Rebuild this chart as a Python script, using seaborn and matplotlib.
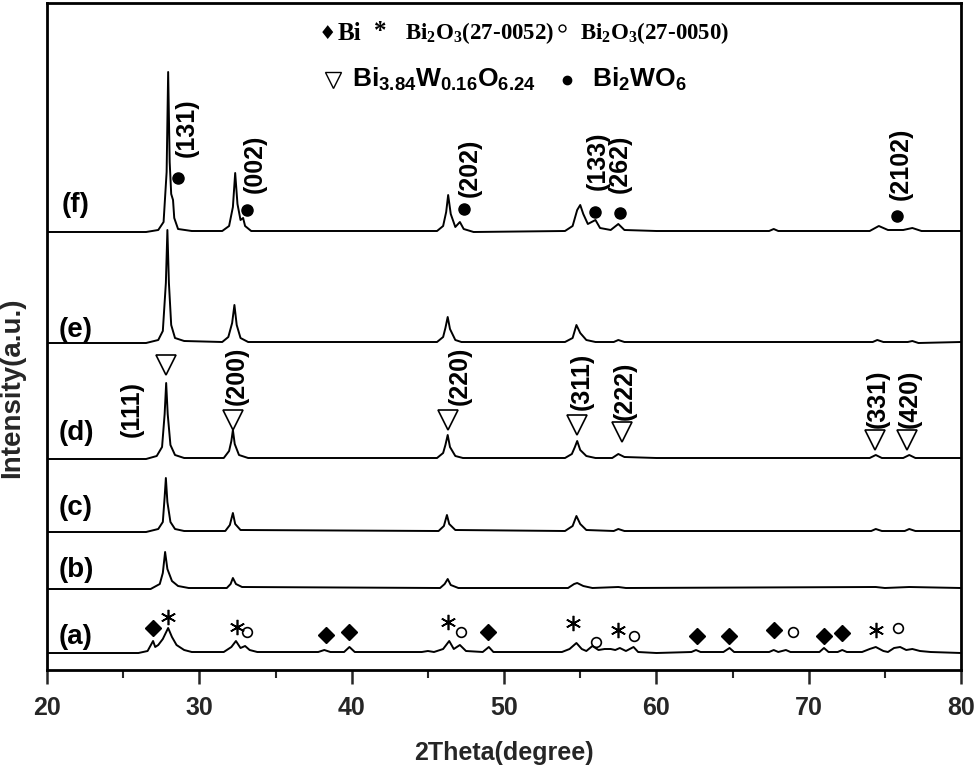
import pandas as pd
import numpy as np
import matplotlib
matplotlib.use('Agg')
import matplotlib.pyplot as plt
import seaborn as sns

# XRD traces: (2theta, intensity above own baseline)
trace_a = [(20, 0), (26.0, 0), (26.6, 2), (26.96, 12), (27.1, 6), (27.3, 8), (27.6, 14), (27.95, 25),
           (28.2, 16), (28.5, 8), (29.0, 3), (29.5, 1), (31.6, 1), (32.1, 6), (32.4, 12), (32.7, 5),
           (33.0, 7), (33.3, 3), (33.8, 1), (37.8, 1), (38.2, 3), (38.6, 1), (39.5, 1), (39.85, 6),
           (40.2, 1), (44.6, 1), (45.0, 2), (45.4, 1), (46.0, 4), (46.4, 12), (46.7, 4), (47.1, 8),
           (47.5, 2), (48.6, 1), (49.0, 6), (49.3, 1), (53.8, 1), (54.3, 4), (54.75, 10), (55.1, 4),
           (55.4, 2), (55.8, 7), (56.2, 3), (56.6, 4), (57.0, 4), (57.3, 3), (57.6, 5), (58.0, 2),
           (58.5, 6), (58.8, 1), (60.0, 0), (62.3, 1), (62.6, 3), (62.9, 1), (64.4, 1), (64.8, 5),
           (65.1, 1), (67.4, 1), (67.7, 3), (68.0, 1), (68.5, 3), (68.8, 1), (70.7, 1), (71.0, 5),
           (71.3, 1), (71.9, 1), (72.2, 3), (72.5, 1), (73.5, 1), (74.0, 4), (74.4, 6), (74.9, 2),
           (75.2, 1), (75.6, 5), (76.0, 6), (76.4, 3), (76.8, 4), (77.3, 2), (78.0, 1), (80, 0)]
trace_b = [(20, 0), (26.8, 0), (27.4, 5), (27.6, 16), (27.75, 37), (27.9, 20), (28.2, 8), (28.6, 3),
           (29.3, 1), (31.8, 1), (32.05, 5), (32.2, 11), (32.4, 5), (32.8, 2), (45.8, 1), (46.1, 5),
           (46.3, 10), (46.5, 4), (47.0, 1), (54.2, 1), (54.6, 5), (54.8, 6), (55.2, 3), (55.8, 1),
           (57.5, 2), (58.0, 1), (74.4, 2), (75.0, 1), (76.6, 2), (80, 1)]
trace_c = [(20, 0), (26.5, 0), (27.3, 3), (27.6, 10), (27.72, 35), (27.8, 54), (27.9, 30), (28.1, 10),
           (28.4, 3), (29.0, 1), (31.7, 1), (32.0, 7), (32.2, 19), (32.35, 8), (32.7, 2), (45.7, 1),
           (46.05, 6), (46.25, 17), (46.4, 8), (46.8, 2), (54.0, 1), (54.5, 6), (54.75, 16), (55.0, 8),
           (55.4, 2), (57.2, 1), (57.5, 3), (57.9, 1), (74.1, 1), (74.4, 3), (74.8, 1), (76.3, 1),
           (76.6, 3), (77.0, 1), (80, 1)]
trace_d = [(20, 0), (26.5, 0), (27.2, 3), (27.55, 12), (27.72, 45), (27.82, 76), (27.92, 45), (28.1, 14),
           (28.4, 4), (29.0, 1), (31.6, 1), (31.95, 8), (32.1, 18), (32.2, 29), (32.32, 15), (32.6, 4),
           (33.2, 1), (45.6, 1), (46.0, 6), (46.15, 14), (46.3, 24), (46.45, 12), (46.8, 3), (47.3, 1),
           (54.0, 1), (54.45, 5), (54.65, 12), (54.8, 18), (55.0, 9), (55.4, 3), (56.0, 1), (57.1, 1),
           (57.5, 5), (57.9, 2), (60.0, 1), (74.0, 1), (74.4, 4), (74.8, 1), (76.2, 1), (76.6, 4),
           (77.0, 1), (80, 1)]
trace_e = [(20, 0), (26.5, 0), (27.3, 3), (27.6, 12), (27.8, 60), (27.9, 113), (28.0, 60), (28.15, 18),
           (28.4, 5), (29.0, 2), (31.5, 1), (31.9, 6), (32.15, 20), (32.3, 38), (32.45, 18), (32.7, 5),
           (33.2, 1), (45.6, 1), (46.0, 6), (46.15, 15), (46.3, 26), (46.45, 14), (46.8, 3), (47.2, 1),
           (54.0, 1), (54.5, 5), (54.75, 18), (55.0, 10), (55.4, 3), (56.0, 1), (57.2, 1), (57.5, 3),
           (57.9, 1), (74.2, 1), (74.5, 3), (74.9, 1), (76.5, 1), (76.8, 2), (77.2, 0), (80, 1)]
trace_f = [(20, 0), (26.5, 0), (27.3, 2), (27.65, 10), (27.85, 60), (27.95, 160), (28.05, 70), (28.15, 38),
           (28.27, 32), (28.35, 14), (28.6, 3), (29.5, 1), (31.5, 1), (31.95, 6), (32.2, 25), (32.35, 59),
           (32.5, 28), (32.7, 12), (32.87, 14), (33.0, 6), (33.4, 1), (45.6, 1), (46.0, 6), (46.2, 20),
           (46.33, 37), (46.5, 18), (46.8, 5), (47.1, 10), (47.35, 3), (48.0, 0), (54.0, 1), (54.5, 6),
           (54.8, 22), (55.0, 27), (55.2, 18), (55.5, 8), (56.0, 12), (56.3, 4), (57.0, 2), (57.5, 8),
           (57.9, 2), (60.0, 1), (67.4, 1), (67.7, 3), (68.0, 1), (74.0, 1), (74.6, 6), (75.2, 2),
           (76.2, 2), (76.8, 4), (77.4, 1), (80, 1)]

sample_names = ['(a)', '(b)', '(c)', '(d)', '(e)', '(f)']
traces = [trace_a, trace_b, trace_c, trace_d, trace_e, trace_f]
offsets = [17, 81, 138, 211, 327, 438]
label_y = [33, 100, 162, 237, 340, 465]

# phase markers on pattern (a)
bi_x = [26.96, 38.32, 39.83, 48.96, 62.68, 64.78, 67.73, 71.02, 72.2]
bi_y = [42, 35, 38, 38, 34, 34, 40, 34, 37]
bi2o3_52_x = [27.95, 32.47, 46.33, 54.54, 57.49, 74.43]
bi2o3_52_y = [53, 43, 48, 47, 40, 40]
bi2o3_50_x = [33.13, 47.18, 56.05, 58.54, 68.98, 75.87]
bi2o3_50_y = [38, 38, 28, 34, 38, 42]

# Bi3.84W0.16O6.24 on pattern (d)
tri_x = [27.81, 32.2, 46.33, 54.8, 57.75, 74.36, 76.46]
tri_y = [305, 250, 250, 245, 238, 230, 230]
tri_hkl = ['(111)', '(200)', '(220)', '(311)', '(222)', '(331)', '(420)']
tri_lab_x = [25.58, 32.47, 47.12, 55.13, 57.95, 74.56, 76.66]
tri_lab_y = [233, 265, 265, 260, 250, 242, 242]

# Bi2WO6 on pattern (f)
dot_x = [28.6, 33.13, 47.38, 55.98, 57.62, 75.81]
dot_y = [492, 460, 461, 458, 457, 454]
dot_hkl = ['(131)', '(002)', '(202)', '(133)', '(262)', '(2102)']
dot_lab_x = [29.19, 33.66, 47.77, 56.18, 57.62, 76.01]
dot_lab_y = [513, 477, 473, 480, 477, 470]

rows = []
for name, tr, off in zip(sample_names, traces, offsets):
    for t, i in tr:
        rows.append({'theta': t, 'intensity': i + off, 'sample': name})
df = pd.DataFrame(rows)

sns.set_theme(style='ticks')
plt.rcParams['font.family'] = ['Liberation Sans', 'DejaVu Sans']
plt.rcParams['mathtext.default'] = 'regular'

fig = plt.figure(figsize=(9.8, 7.68), dpi=100)
ax = fig.add_axes([0.048, 0.1276, 0.9327, 0.8685])

sns.lineplot(data=df, x='theta', y='intensity', hue='sample', units='sample', estimator=None,
             palette=['black'] * 6, legend=False, linewidth=1.4, ax=ax)

bold = dict(fontweight='bold', color='black')
for name, y in zip(sample_names, label_y):
    ax.text(21.9, y, name, ha='center', va='center', fontsize=20, **bold)

ax.plot(bi_x, bi_y, 'D', color='black', markersize=8, linestyle='none')
ax.plot(bi2o3_52_x, bi2o3_52_y, marker=(6, 2, 0), color='black', markersize=11,
        markeredgewidth=1.2, linestyle='none')
ax.plot(bi2o3_50_x, bi2o3_50_y, 'o', markerfacecolor='none', markeredgecolor='black',
        markersize=7, markeredgewidth=1.2, linestyle='none')

ax.plot(tri_x, tri_y, 'v', markerfacecolor='white', markeredgecolor='black',
        markersize=14, markeredgewidth=1.2, linestyle='none')
for x, y, s in zip(tri_lab_x, tri_lab_y, tri_hkl):
    ax.text(x, y, s, rotation=90, ha='center', va='bottom', fontsize=18, **bold)

ax.plot(dot_x, dot_y, 'o', color='black', markersize=8, linestyle='none')
for x, y, s in zip(dot_lab_x, dot_lab_y, dot_hkl):
    ax.text(x, y, s, rotation=90, ha='center', va='bottom', fontsize=18, **bold)

# legend-like header
serif = ['Liberation Serif', 'DejaVu Serif']
ax.text(0.307, 0.955, '\u2666', transform=ax.transAxes, ha='center', va='center',
        fontsize=14, family=['DejaVu Sans'], color='black')
ax.text(0.318, 0.955, 'Bi', transform=ax.transAxes, ha='left', va='center',
        fontsize=18, family=serif, **bold)
ax.text(0.364, 0.958, '*', transform=ax.transAxes, ha='center', va='center',
        fontsize=18, family=serif, **bold)
ax.text(0.392, 0.955, 'Bi$_2$O$_3$(27-0052)', transform=ax.transAxes, ha='left', va='center',
        fontsize=16.5, family=serif, **bold)
ax.plot([0.563], [0.962], 'o', transform=ax.transAxes, markerfacecolor='white',
        markeredgecolor='black', markersize=5, markeredgewidth=1.0)
ax.text(0.583, 0.955, 'Bi$_2$O$_3$(27-0050)', transform=ax.transAxes, ha='left', va='center',
        fontsize=16.5, family=serif, **bold)
ax.plot([0.313], [0.885], 'v', transform=ax.transAxes, markerfacecolor='white',
        markeredgecolor='black', markersize=11, markeredgewidth=1.0)
ax.text(0.334, 0.885, 'Bi$_{3.84}$W$_{0.16}$O$_{6.24}$', transform=ax.transAxes, ha='left',
        va='center', fontsize=19, **bold)
ax.plot([0.569], [0.885], 'o', transform=ax.transAxes, color='black', markersize=6)
ax.text(0.596, 0.885, 'Bi$_2$WO$_6$', transform=ax.transAxes, ha='left', va='center',
        fontsize=19, **bold)

ax.set_xlim(20, 80)
ax.set_ylim(0, 667)
ax.set_xticks([20, 30, 40, 50, 60, 70, 80])
ax.set_xticks([25, 35, 45, 55, 65, 75], minor=True)
ax.set_yticks([])
ax.tick_params(axis='x', which='major', direction='out', length=10, width=1.8,
               labelsize=18, pad=9)
ax.tick_params(axis='x', which='minor', direction='out', length=6, width=1.5)
for lab in ax.get_xticklabels():
    lab.set_fontweight('bold')
for sp in ax.spines.values():
    sp.set_linewidth(2)
    sp.set_color('black')

ax.set_xlabel('2Theta(degree)', fontsize=18, fontweight='bold', labelpad=15)
ax.set_ylabel('Intensity(a.u.)', fontsize=20, fontweight='bold')
ax.yaxis.set_label_coords(-0.024, 0.423)

fig.savefig('out.png', dpi=100)
